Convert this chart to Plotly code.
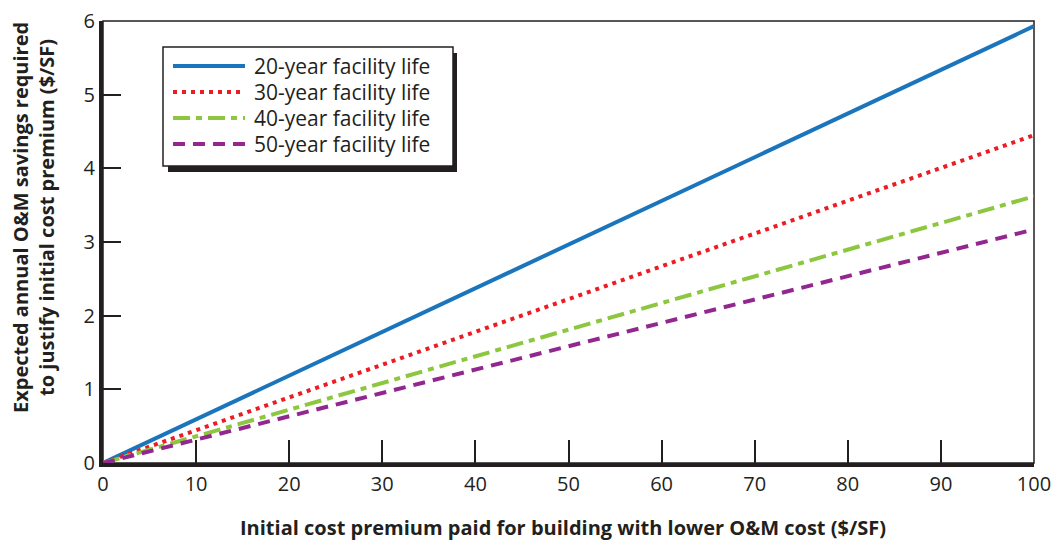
import plotly.graph_objects as go

premium = [0, 100]
life_labels = ["20-year facility life", "30-year facility life",
               "40-year facility life", "50-year facility life"]
savings_20 = [0, 5.93]
savings_30 = [0, 4.45]
savings_40 = [0, 3.62]
savings_50 = [0, 3.17]

x_ticks = [0, 10, 20, 30, 40, 50, 60, 70, 80, 90, 100]
y_ticks = [0, 1, 2, 3, 4, 5, 6]

x_title = "Initial cost premium paid for building with lower O&M cost ($/SF)"
y_title = "Expected annual O&M savings required<br>to justify initial cost premium ($/SF)"

series = [savings_20, savings_30, savings_40, savings_50]
styles = [
    dict(color="#1a75bc", width=4, dash="solid"),
    dict(color="#ed1c24", width=4, dash="4px,5px"),
    dict(color="#8dc63f", width=4, dash="17px,6px,6px,6px"),
    dict(color="#92278f", width=4, dash="12px,8px"),
]

FONT = "Open Sans, Noto Sans, sans-serif"
INK = "#231f20"

# plot area in page pixels (page has an 8px body offset)
PL, PR, PT, PB = 103, 1034, 21, 463


def px(sx):
    return (sx - PL) / (PR - PL)


def py(sy):
    return (PB - sy) / (PB - PT)


fig = go.Figure()
for name, vals, st in zip(life_labels, series, styles):
    fig.add_trace(go.Scatter(x=premium, y=vals, mode="lines", name=name, line=st,
                             showlegend=False))

# thin frame for top/right
fig.add_shape(type="rect", xref="x domain", yref="y domain", x0=0, x1=1, y0=0, y1=1,
              line=dict(color=INK, width=1.5), layer="below")

# legend: shadow, box, samples, labels
fig.add_shape(type="rect", xref="paper", yref="paper",
              x0=px(168), x1=px(457), y0=py(172), y1=py(53),
              line=dict(width=0), fillcolor=INK, layer="above")
fig.add_shape(type="rect", xref="paper", yref="paper",
              x0=px(163), x1=px(453), y0=py(166), y1=py(47),
              line=dict(color=INK, width=1.5), fillcolor="white", layer="above")
rows = [66, 92, 118, 144]
for name, st, ry in zip(life_labels, styles, rows):
    fig.add_shape(type="line", xref="paper", yref="paper",
                  x0=px(173), x1=px(245), y0=py(ry), y1=py(ry),
                  line=st, layer="above")
    fig.add_annotation(text=name, xref="paper", yref="paper", x=px(252), y=py(ry),
                       xanchor="left", yanchor="middle", showarrow=False,
                       font=dict(size=21, color=INK))

fig.add_annotation(text="<b>" + x_title + "</b>", xref="paper", yref="paper",
                   x=px(563), y=py(527), showarrow=False,
                   xanchor="center", yanchor="middle", font=dict(size=20, color=INK))
fig.add_annotation(text="<b>" + y_title + "</b>", xref="paper", yref="paper",
                   x=px(33), y=py(218), showarrow=False,
                   textangle=-90, xanchor="center", yanchor="middle",
                   font=dict(size=20, color=INK))

fig.update_layout(
    width=1060, height=544,
    margin=dict(l=PL - 8, r=1060 + 8 - PR, t=PT - 8, b=544 + 8 - PB),
    paper_bgcolor="white", plot_bgcolor="white",
    font=dict(family=FONT, size=20, color=INK),
    showlegend=False,
    xaxis=dict(range=[0, 100], tickvals=x_ticks, ticks="inside", ticklen=23,
               tickwidth=1.5, tickcolor=INK, showgrid=False, zeroline=False,
               showline=True, linewidth=4, linecolor=INK, automargin=False,
               ticklabeloverflow="allow"),
    yaxis=dict(range=[0, 6], tickvals=y_ticks, ticks="inside", ticklen=18,
               tickwidth=1.5, tickcolor=INK, showgrid=False, zeroline=False,
               showline=True, linewidth=4, linecolor=INK, automargin=False,
               ticklabeloverflow="allow"),
)

fig.write_html("out.html")
